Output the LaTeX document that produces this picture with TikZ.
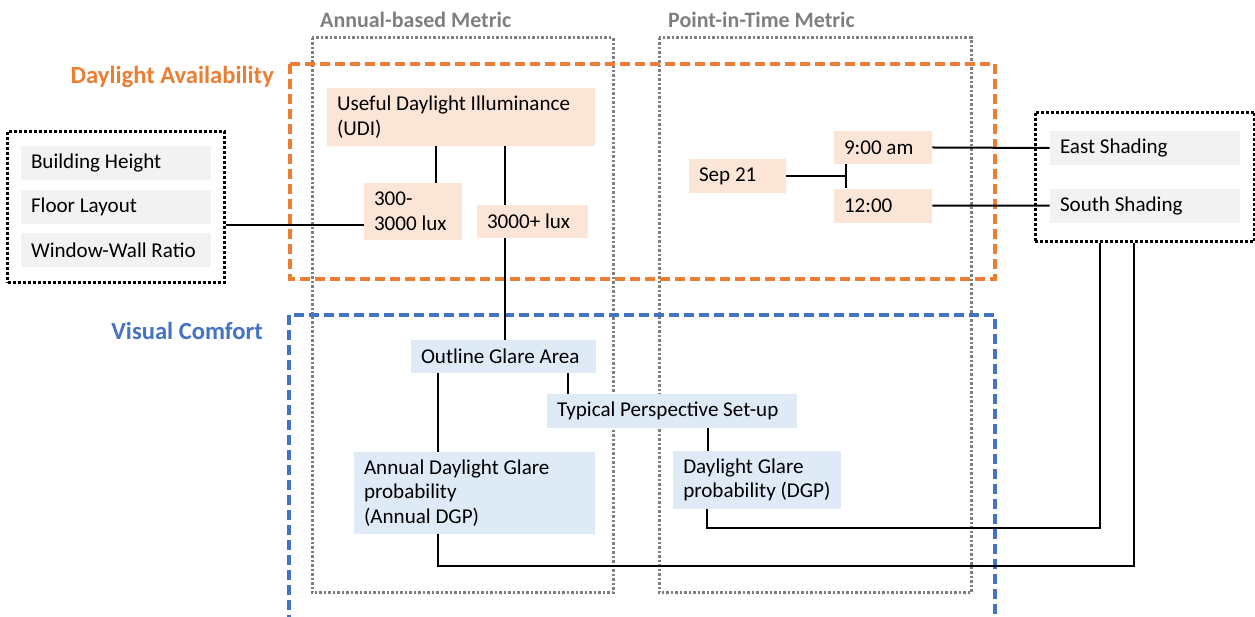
\documentclass[tikz,border=0pt]{standalone}
\usepackage{fontspec}
\setmainfont{Carlito}
\usetikzlibrary{positioning,fit}

\definecolor{availorange}{HTML}{ED7D31}
\definecolor{comfortblue}{HTML}{4472C4}
\definecolor{metricgray}{HTML}{7F7F7F}
\definecolor{orangefill}{HTML}{FBE5D6}
\definecolor{bluefill}{HTML}{DEEBF7}
\definecolor{grayfill}{HTML}{F2F2F2}

\begin{document}
\begin{tikzpicture}[x=0.02cm, y=-0.02cm,
                    every node/.style={font=\fontsize{12}{14}\selectfont},
                    item/.style={align=flush left, inner xsep=0.2cm, inner ysep=0pt},
                    inputbox/.style={item, fill=grayfill, text width=3.4cm, minimum height=0.68cm},
                    availbox/.style={item, fill=orangefill},
                    comfortbox/.style={item, fill=bluefill},
                    group/.style={draw, line width=0.065cm, dash pattern=on 0.06cm off 0.04cm},
                    metric/.style={draw=metricgray, line width=0.06cm, dash pattern=on 0.05cm off 0.04cm},
                    metric label/.style={text=metricgray, anchor=west, font=\bfseries\fontsize{12.5}{15}\selectfont},
                    link/.style={line width=0.04cm}]
    %\draw[help lines] (0,0) grid[step=50] (1255,617);
    \useasboundingbox (0,0) rectangle (1255,617);

    % metric columns and topic frames
    \draw[metric] (312,38) rectangle (613,593);
    \draw[metric] (659,38) rectangle (971,593);
    \draw[availorange, line width=0.07cm, dash pattern=on 0.2cm off 0.1cm] (290,64) rectangle (995,279);
    \draw[comfortblue, line width=0.07cm, dash pattern=on 0.2cm off 0.1cm] (289,640) |- (995,315) -- (995,640);

    \node[metric label] (annual_label) at (314,20) {Annual-based Metric};
    \node[metric label] (pit_label)    at (662,20) {Point-in-Time Metric};
    \node[anchor=east, text=availorange, font=\bfseries\fontsize{14}{16}\selectfont] (avail_label)   at (280,77)  {Daylight Availability};
    \node[anchor=east, text=comfortblue, font=\bfseries\fontsize{14}{16}\selectfont] (comfort_label) at (269,331) {Visual Comfort};

    % design inputs
    \node[inputbox]                         (height) at (116,163) {Building Height};
    \node[inputbox, below=0.18cm of height] (layout)              {Floor Layout};
    \node[inputbox, below=0.18cm of layout] (wwr)                 {Window-Wall Ratio};
    \node[group, fit=(height)(layout)(wwr), inner xsep=0.26cm, inner ysep=0.29cm] (inputs) {};

    % daylight availability
    \node[availbox, text width=4.96cm, minimum height=1.16cm] (udi)     at (461,117)   {Useful Daylight Illuminance\\(UDI)};
    \node[availbox, text width=1.56cm, minimum height=1.14cm] (lux300)  at (413,211.5) {300-\\3000 lux};
    \node[availbox, text width=1.82cm, minimum height=0.66cm] (lux3000) at (532.5,221.5) {3000+ lux};
    \node[availbox, text width=1.54cm, minimum height=0.68cm] (sep)     at (737.5,176) {Sep 21};
    \node[availbox, text width=1.56cm, minimum height=0.66cm] (nine)    at (883,147.5) {9:00 am};
    \node[availbox, text width=1.56cm, minimum height=0.68cm, below=0.48cm of nine] (noon) {12:00};

    % shading options
    \node[inputbox]                       (east)  at (1145,148) {East Shading};
    \node[inputbox, below=0.46cm of east] (south)               {South Shading};
    \node[group, fit=(east)(south), inner xsep=0.29cm, inner ysep=0.37cm] (shading) {};

    % visual comfort
    \node[comfortbox, text width=3.3cm,  minimum height=0.66cm] (oga)  at (503.5,356.5) {Outline Glare Area};
    \node[comfortbox, text width=4.6cm,  minimum height=0.68cm] (tps)  at (672,411)     {Typical Perspective Set-up};
    \node[comfortbox, text width=4.42cm, minimum height=1.64cm] (adgp) at (474.5,493)   {Annual Daylight Glare\\probability\\(Annual DGP)};
    \node[comfortbox, text width=2.95cm, minimum height=1.16cm] (dgp)  at (757,480)     {Daylight Glare\\probability (DGP)};

    % Define connectors
    \draw[link] ([yshift=-0.27cm]lux300.west) -- ([yshift=-0.27cm]lux300.west -| inputs.east);
    \draw[link] ([xshift=0.46cm]lux300.north) -- ([xshift=0.46cm]lux300.north |- udi.south);
    \draw[link] ([xshift=-0.55cm]lux3000.north) -- ([xshift=-0.55cm]lux3000.north |- udi.south);
    \draw[link] ([xshift=-0.55cm]lux3000.south) -- ([xshift=-0.55cm]lux3000.south |- oga.north);
    \draw[link] ([xshift=1.29cm]oga.south) -- ([xshift=1.29cm]oga.south |- tps.north);
    \draw[link] ([xshift=-1.31cm]oga.south) -- ([xshift=-1.31cm]oga.south |- adgp.north);
    \draw[link] ([xshift=0.72cm]tps.south) -- ([xshift=0.72cm]tps.south |- dgp.north);
    \draw[link] (sep.east) -- ([xshift=-0.74cm]nine.south |- sep.east);
    \draw[link] ([xshift=-0.74cm]nine.south) -- ([xshift=-0.74cm]noon.north);
    \draw[link] (nine.east) -- (east.west);
    \draw[link] (noon.east) -- (south.west);
    \draw[link] ([xshift=-1.0cm]dgp.south) -- ++(0,19) -| ([xshift=-0.9cm]shading.south);
    \draw[link] ([xshift=-0.73cm]adgp.south) -- ++(0,32) -| ([xshift=-0.22cm]shading.south);

\end{tikzpicture}
\end{document}
